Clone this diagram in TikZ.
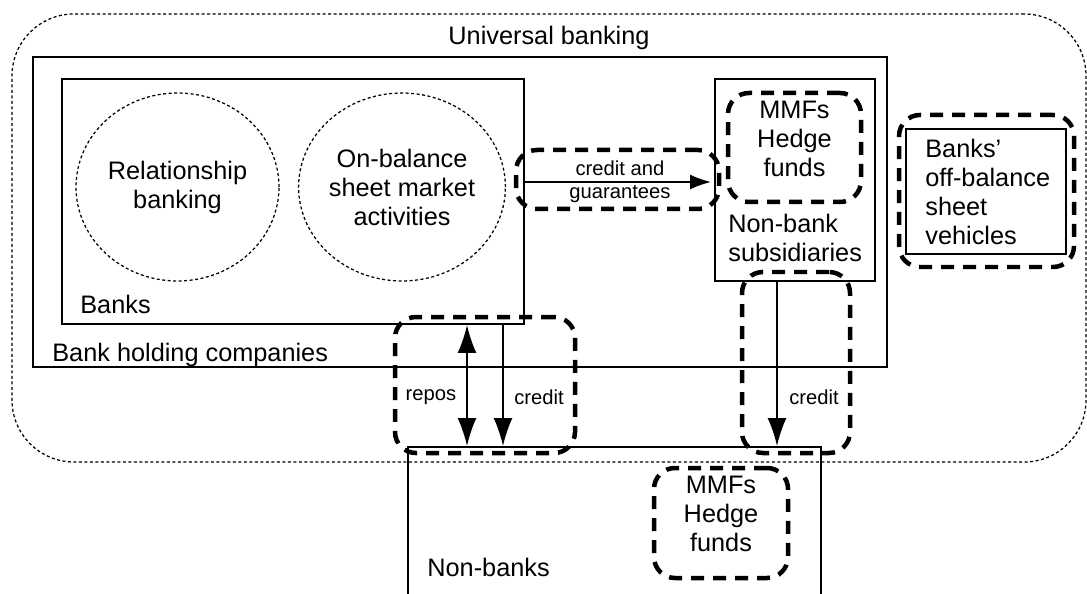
\documentclass[tikz,border=0pt]{standalone}
\usepackage{fontspec}
\setmainfont{Liberation Sans}
\usetikzlibrary{arrows.meta,fit,shapes.geometric}

\tikzset{
  plainbox/.style={draw, line width=0.04cm, inner sep=0pt},
  fatdash/.style={draw, line width=0.09cm, dash pattern=on 0.26cm off 0.18cm,
    rounded corners=0.42cm, inner sep=0pt},
  dotline/.style={line width=0.025cm, dash pattern=on 0.06cm off 0.05cm},
  bigtxt/.style={font=\fontsize{14.4}{16.5}\selectfont, inner sep=0pt, align=center},
  smalltxt/.style={font=\fontsize{11.5}{13}\selectfont, inner sep=0pt, align=center},
  flowh/.style={line width=0.035cm, -{Latex[length=0.42cm,width=0.3cm]}},
  flowv/.style={line width=0.035cm, -{Latex[length=0.56cm,width=0.38cm]}},
}

\begin{document}
\begin{tikzpicture}[x=0.02cm, y=-0.02cm]
  \useasboundingbox (0,0) rectangle (1087,594);

  % Universal banking (dotted outline)
  \node [draw, dotline, rounded corners=1.24cm, inner sep=0pt,
         fit={(12,14) (1086,462)}] (univ) {};
  \node [bigtxt] (univlab) at (549,38) {Universal banking};

  % Bank holding companies and banks
  \node [plainbox, fit={(33,57) (887,367)}] (bhc) {};
  \node [bigtxt, anchor=west] (bhclab) at (52,355) {Bank holding companies};
  \node [plainbox, fit={(62,79) (524,324)}] (banks) {};
  \node [bigtxt, anchor=west] (bankslab) at (80,304) {Banks};

  % Activities of the banks
  \node [ellipse, draw, dotline, bigtxt, minimum width=4.06cm,
         minimum height=3.76cm] (relbank) at (177.5,187) {Relationship\\banking};
  \node [ellipse, draw, dotline, bigtxt, minimum width=4.06cm,
         minimum height=3.76cm] (onbal) at (402,187) {On-balance\\sheet market\\activities};

  % Non-bank subsidiaries
  \node [plainbox, fit={(715,79) (875,281)}] (nbs) {};
  \node [bigtxt, align=left, anchor=west] (nbslab) at (728,237.5) {Non-bank\\subsidiaries};
  \node [fatdash, bigtxt, fit={(728,93) (861,202)}] (mmfsin) {MMFs\\Hedge\\funds};

  % Off-balance sheet vehicles
  \node [plainbox, fit={(906,129) (1066,254)}] (obsv) {};
  \node [fatdash, fit={(899,115) (1074,267)}] (obsvdash) {};
  \node [bigtxt, align=left, anchor=west] (obsvlab) at (925,192)
        {Banks'\\off-balance\\sheet\\vehicles};

  % Non-banks
  \node [plainbox, fit={(408,447) (821,620)}] (nonbanks) {};
  \node [bigtxt, anchor=west] (nonbankslab) at (427,567) {Non-banks};
  \node [fatdash, bigtxt, fit={(654,468) (788,578)}] (mmfsout) {MMFs\\Hedge\\funds};

  % Dashed groups round the links
  \node [fatdash, fit={(516,150) (719,209)}] (cgdash) {};
  \node [fatdash, fit={(395,317) (575,453)}] (reposdash) {};
  \node [fatdash, fit={(742,272) (850,453)}] (nbsdash) {};

  % Links
  \coordinate (cgy) at (0,182);
  \coordinate (reposx) at (467,0);
  \coordinate (creditx) at (503,0);
  \coordinate (nbsx) at (777,0);

  \draw [flowh, shorten >=0.06cm] (banks.east |- cgy) -- (nbs.west |- cgy);
  \node [smalltxt] (cglab) at (620,181.5) {credit and\\guarantees};

  \draw [flowv, {Latex[length=0.56cm,width=0.38cm]}-{Latex[length=0.56cm,width=0.38cm]}]
        (banks.south -| reposx) -- (nonbanks.north -| reposx);
  \node [smalltxt] (reposlab) at (431,397) {repos};
  \draw [flowv] (banks.south -| creditx) -- (nonbanks.north -| creditx);
  \node [smalltxt] (creditlab) at (539,397) {credit};

  \draw [flowv] (nbs.south -| nbsx) -- (nonbanks.north -| nbsx);
  \node [smalltxt] (nbscreditlab) at (814,397) {credit};
\end{tikzpicture}
\end{document}
